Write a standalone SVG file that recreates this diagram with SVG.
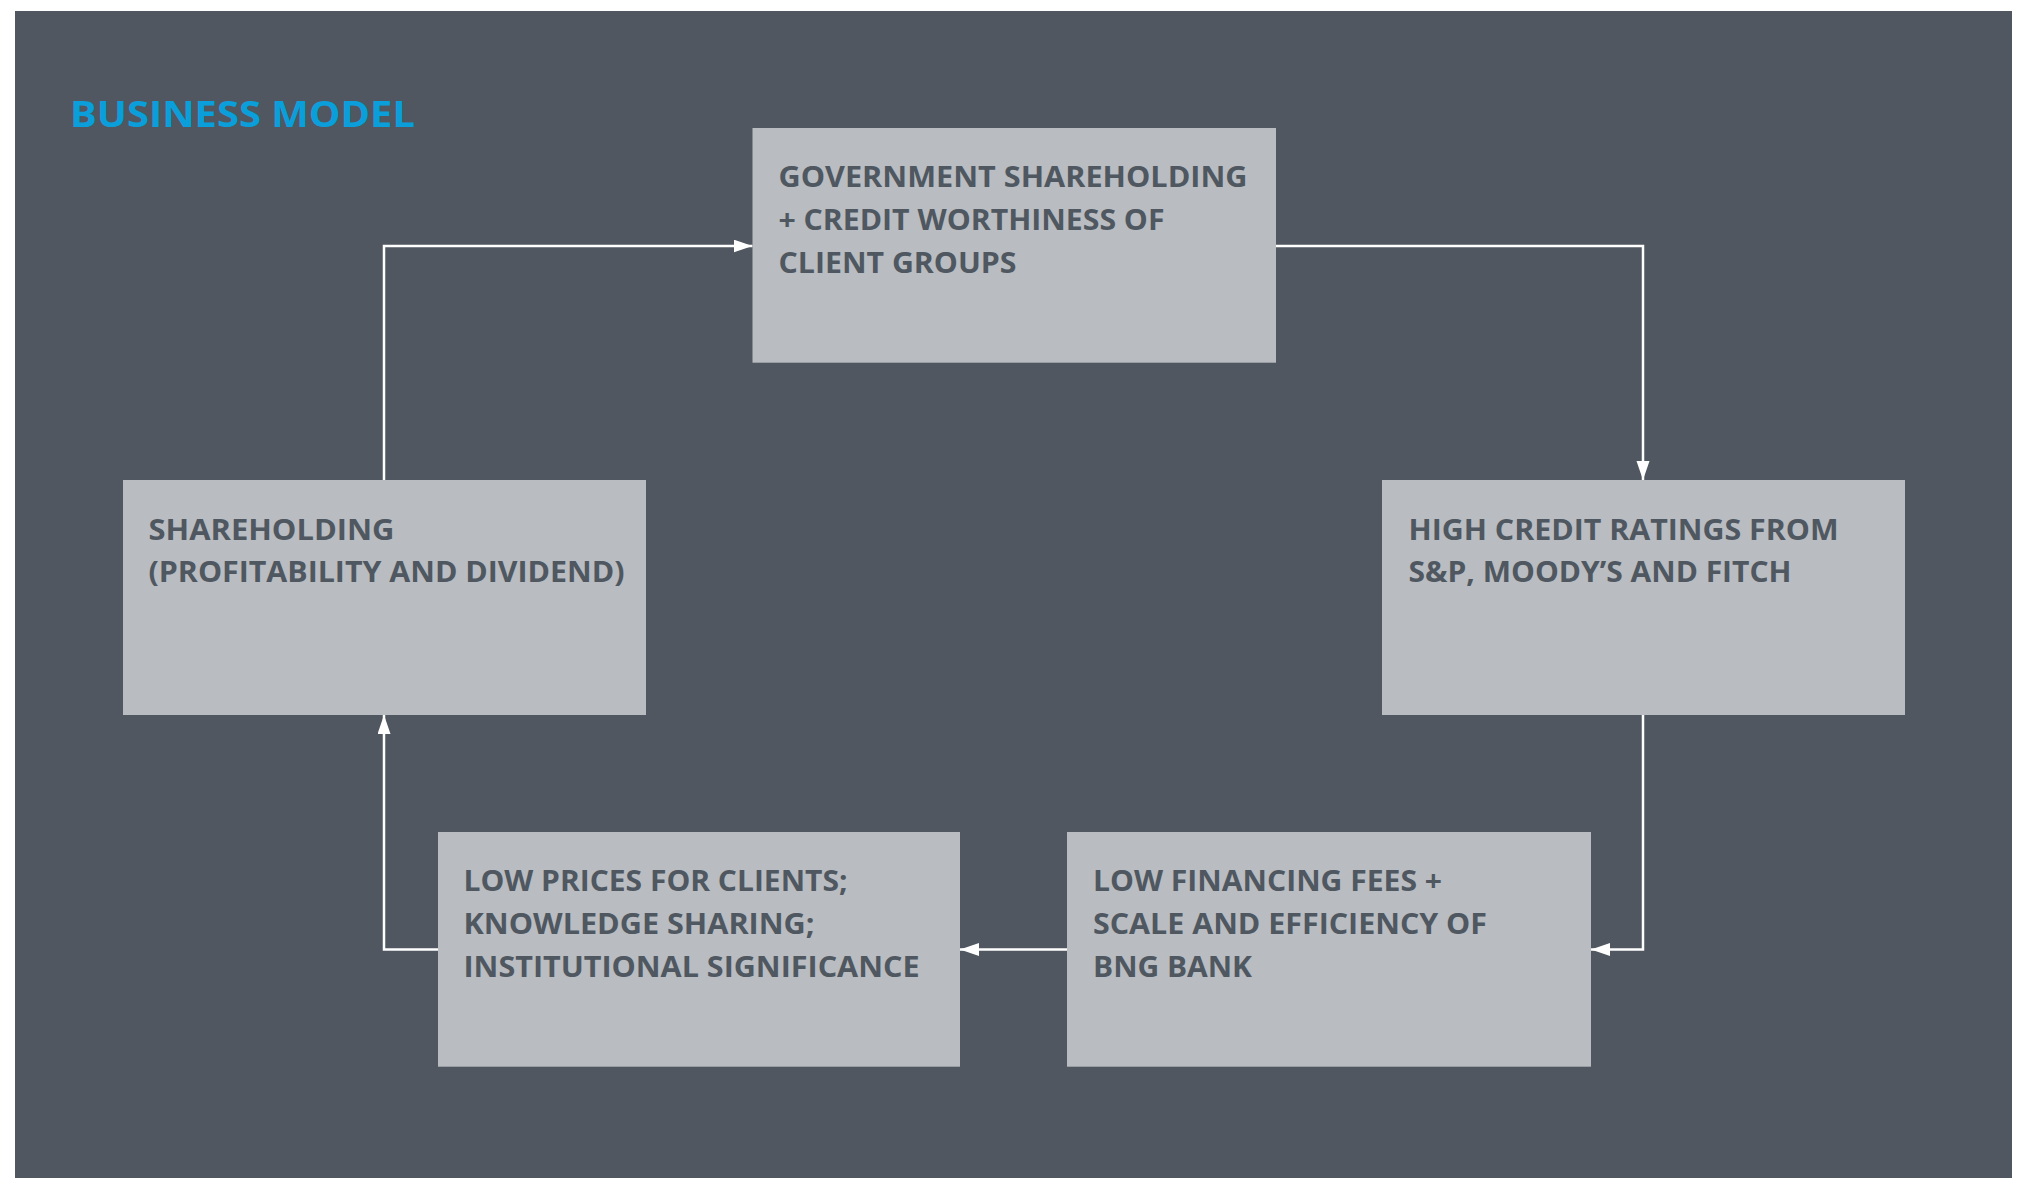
<svg xmlns="http://www.w3.org/2000/svg" width="2020" height="1178" viewBox="0 0 2020 1178">
  <style>
    .bg { fill: #505760; }
    .box { fill: #b9bcc0; }
    .lbl { font-family: "Open Sans", "Lato", "Liberation Sans", sans-serif; font-weight: 700; font-size: 29px; fill: #4f5761; }
    .title { font-family: "Open Sans", "Lato", "Liberation Sans", sans-serif; font-weight: 700; font-size: 35px; fill: #0a9fdb; }
    .conn { fill: none; stroke: #ffffff; stroke-width: 2.5; stroke-linejoin: miter; }
  </style>
  <defs>
    <marker id="arrow" markerUnits="userSpaceOnUse" markerWidth="20" markerHeight="14" refX="19" refY="6.5" orient="auto">
      <path d="M0,0 L19,6.5 L0,13 Z" fill="#ffffff"/>
    </marker>
  </defs>
  <rect width="2020" height="1178" fill="#ffffff"/>
  <rect class="bg" x="15" y="11" width="1997" height="1167"/>
  <text class="title" x="70" y="126.7" textLength="345" lengthAdjust="spacingAndGlyphs">BUSINESS MODEL</text>

  <g id="connectors">
    <path class="conn" d="M1276,246 L1643,246 L1643,480" marker-end="url(#arrow)"/>
    <path class="conn" d="M1643,715 L1643,949.5 L1591,949.5" marker-end="url(#arrow)"/>
    <path class="conn" d="M1067,949.5 L960,949.5" marker-end="url(#arrow)"/>
    <path class="conn" d="M438,949.5 L384,949.5 L384,715" marker-end="url(#arrow)"/>
    <path class="conn" d="M384,480 L384,246 L752.5,246" marker-end="url(#arrow)"/>
  </g>

  <g id="node-government">
    <rect class="box" x="752.5" y="128" width="523.5" height="234.7"/>
    <text class="lbl" x="778.5" y="187" textLength="469" lengthAdjust="spacingAndGlyphs">GOVERNMENT SHAREHOLDING</text>
    <text class="lbl" x="778.5" y="230" textLength="386" lengthAdjust="spacingAndGlyphs">+ CREDIT WORTHINESS OF</text>
    <text class="lbl" x="778.5" y="273" textLength="238" lengthAdjust="spacingAndGlyphs">CLIENT GROUPS</text>
  </g>

  <g id="node-ratings">
    <rect class="box" x="1382" y="480" width="523" height="235"/>
    <text class="lbl" x="1408.5" y="539.5" textLength="430" lengthAdjust="spacingAndGlyphs">HIGH CREDIT RATINGS FROM</text>
    <text class="lbl" x="1408.5" y="582" textLength="383" lengthAdjust="spacingAndGlyphs">S&amp;P, MOODY’S AND FITCH</text>
  </g>

  <g id="node-financing">
    <rect class="box" x="1067" y="832" width="524" height="234.7"/>
    <text class="lbl" x="1093" y="891" textLength="349" lengthAdjust="spacingAndGlyphs">LOW FINANCING FEES +</text>
    <text class="lbl" x="1093" y="934" textLength="394" lengthAdjust="spacingAndGlyphs">SCALE AND EFFICIENCY OF</text>
    <text class="lbl" x="1093" y="977" textLength="159" lengthAdjust="spacingAndGlyphs">BNG BANK</text>
  </g>

  <g id="node-prices">
    <rect class="box" x="438" y="832" width="522" height="234.7"/>
    <text class="lbl" x="463.5" y="891" textLength="384" lengthAdjust="spacingAndGlyphs">LOW PRICES FOR CLIENTS;</text>
    <text class="lbl" x="463.5" y="934" textLength="351" lengthAdjust="spacingAndGlyphs">KNOWLEDGE SHARING;</text>
    <text class="lbl" x="463.5" y="977" textLength="456" lengthAdjust="spacingAndGlyphs">INSTITUTIONAL SIGNIFICANCE</text>
  </g>

  <g id="node-shareholding">
    <rect class="box" x="123" y="480" width="523" height="235"/>
    <text class="lbl" x="148.5" y="539.5" textLength="246" lengthAdjust="spacingAndGlyphs">SHAREHOLDING</text>
    <text class="lbl" x="148.5" y="582" textLength="476" lengthAdjust="spacingAndGlyphs">(PROFITABILITY AND DIVIDEND)</text>
  </g>
</svg>
